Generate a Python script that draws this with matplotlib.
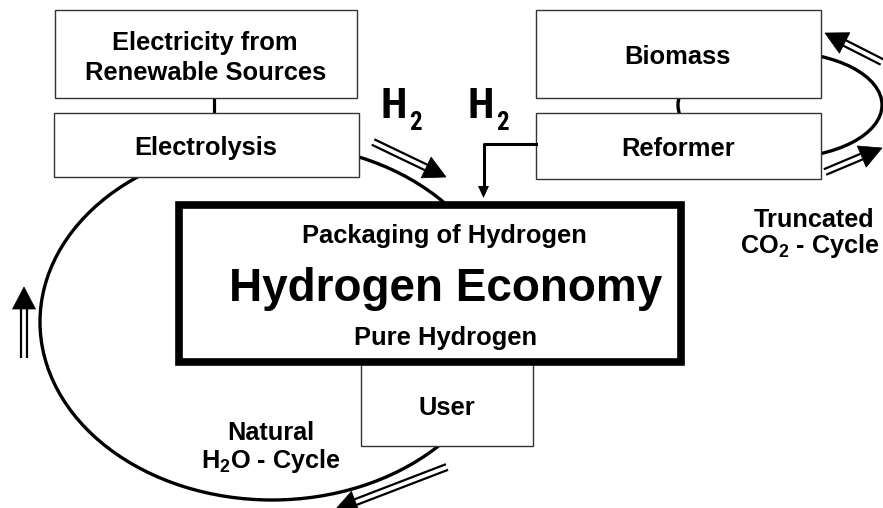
import numpy as np
import matplotlib.pyplot as plt
from matplotlib import font_manager
from matplotlib.patches import Rectangle, Ellipse, Polygon

plt.rcParams['font.family'] = ['Liberation Sans', 'DejaVu Sans']
plt.rcParams['mathtext.fontset'] = 'custom'
plt.rcParams['mathtext.rm'] = 'Liberation Sans:bold'
plt.rcParams['mathtext.bf'] = 'Liberation Sans:bold'
plt.rcParams['mathtext.it'] = 'Liberation Sans:bold'

# box labels (one entry per line of text)
box_labels = ["Electricity from", "Renewable Sources", "Electrolysis", "Biomass", "Reformer", "User"]
main_labels = ["Packaging of Hydrogen", "Hydrogen Economy", "Pure Hydrogen"]
cycle_labels = ["Natural", "H$_\\mathbf{2}$O - Cycle", "Truncated", "CO$_\\mathbf{2}$ - Cycle"]

# geometry in pixels (x, y, w, h), y measured downward
box_rects = [(55, 10, 302, 88), (54, 113, 305, 64), (536, 10, 285, 88),
             (536, 113, 285, 66), (361, 360, 172, 86)]
box_text_pos = [(205, 50), (206, 80), (206, 155), (677, 64), (678, 156), (447, 415)]
main_rect = (178.5, 204.5, 502, 157.5)
main_text_pos = [(444, 243, 18.4), (446, 301, 33), (446, 345, 18.4)]
cycle_text_pos = [(271, 440), (271, 468), (814, 227), (810, 253)]

# double arrows: (tail, tip)
arrow_tails = [(373, 142), (882, 62), (825, 172), (24, 358), (447, 467)]
arrow_tips = [(446, 177), (825, 33), (882, 148), (24, 287), (335, 510)]


def double_arrow(ax, tail, tip, hl=22, hw=23, gap=6, lw=1.6):
    tail = np.array(tail, float)
    tip = np.array(tip, float)
    u = (tip - tail) / np.linalg.norm(tip - tail)
    n = np.array([-u[1], u[0]])
    base = tip - hl * u
    for s in (-1, 1):
        a = tail + s * gap / 2 * n
        b = base + s * gap / 2 * n
        ax.plot([a[0], b[0]], [a[1], b[1]], color='black', lw=lw, solid_capstyle='butt', zorder=5)
    ax.add_patch(Polygon([tip, base + hw / 2 * n, base - hw / 2 * n], closed=True,
                         facecolor='black', edgecolor='black', lw=0.5, zorder=5))


fig = plt.figure(figsize=(8.83, 5.08), dpi=100)
ax = fig.add_axes([0, 0, 1, 1])
ax.set_xlim(0, 883)
ax.set_ylim(508, 0)
ax.axis('off')

# cycles
ax.add_patch(Ellipse((272, 322), 464, 356, fill=False, lw=2.4, edgecolor='black', zorder=1))
ax.add_patch(Ellipse((780, 105), 204, 106, fill=False, lw=2.4, edgecolor='black', zorder=1))

# connector electricity -> electrolysis
ax.plot([214, 214], [98, 113], color='black', lw=2.3, zorder=1)

for x, y, w, h in box_rects:
    ax.add_patch(Rectangle((x, y), w, h, facecolor='white', edgecolor='#333333', lw=1.0, zorder=2))
for label, (tx, ty) in zip(box_labels, box_text_pos):
    ax.text(tx, ty, label, ha='center', va='baseline', fontsize=18.4, fontweight='bold', zorder=3)

x, y, w, h = main_rect
ax.add_patch(Rectangle((x, y), w, h, facecolor='white', edgecolor='black', lw=5.5, zorder=4))
for label, (tx, ty, fs) in zip(main_labels, main_text_pos):
    ax.text(tx, ty, label, ha='center', va='baseline', fontsize=fs, fontweight='bold', zorder=5)

# H2 from reformer
ax.plot([536, 483.5, 483.5], [144, 144, 188], color='black', lw=2.2, zorder=3)
ax.add_patch(Polygon([(483.5, 198), (478, 186), (489, 186)], closed=True, facecolor='black', zorder=3))

# H2 labels with a narrow face when one is installed
names = {f.name for f in font_manager.fontManager.ttflist}
narrow = next((n for n in ['Liberation Sans Narrow', 'Arial Narrow', 'Roboto Condensed',
                           'Open Sans Condensed'] if n in names), None)
if narrow:
    h_font, h_size, s_size = [narrow, 'Liberation Sans'], 31, 18
else:
    h_font, h_size, s_size = ['Liberation Sans'], 27, 16
for gx in (407, 494):
    ax.text(gx, 118, 'H', ha='right', va='baseline', fontsize=h_size, fontweight='bold', family=h_font)
    ax.text(gx + 2, 130, '2', ha='left', va='baseline', fontsize=s_size, fontweight='bold', family=h_font)

for label, (tx, ty) in zip(cycle_labels, cycle_text_pos):
    ax.text(tx, ty, label, ha='center', va='baseline', fontsize=18.2, fontweight='bold')

for tail, tip in zip(arrow_tails, arrow_tips):
    double_arrow(ax, tail, tip)

fig.savefig('out.png', dpi=100)
